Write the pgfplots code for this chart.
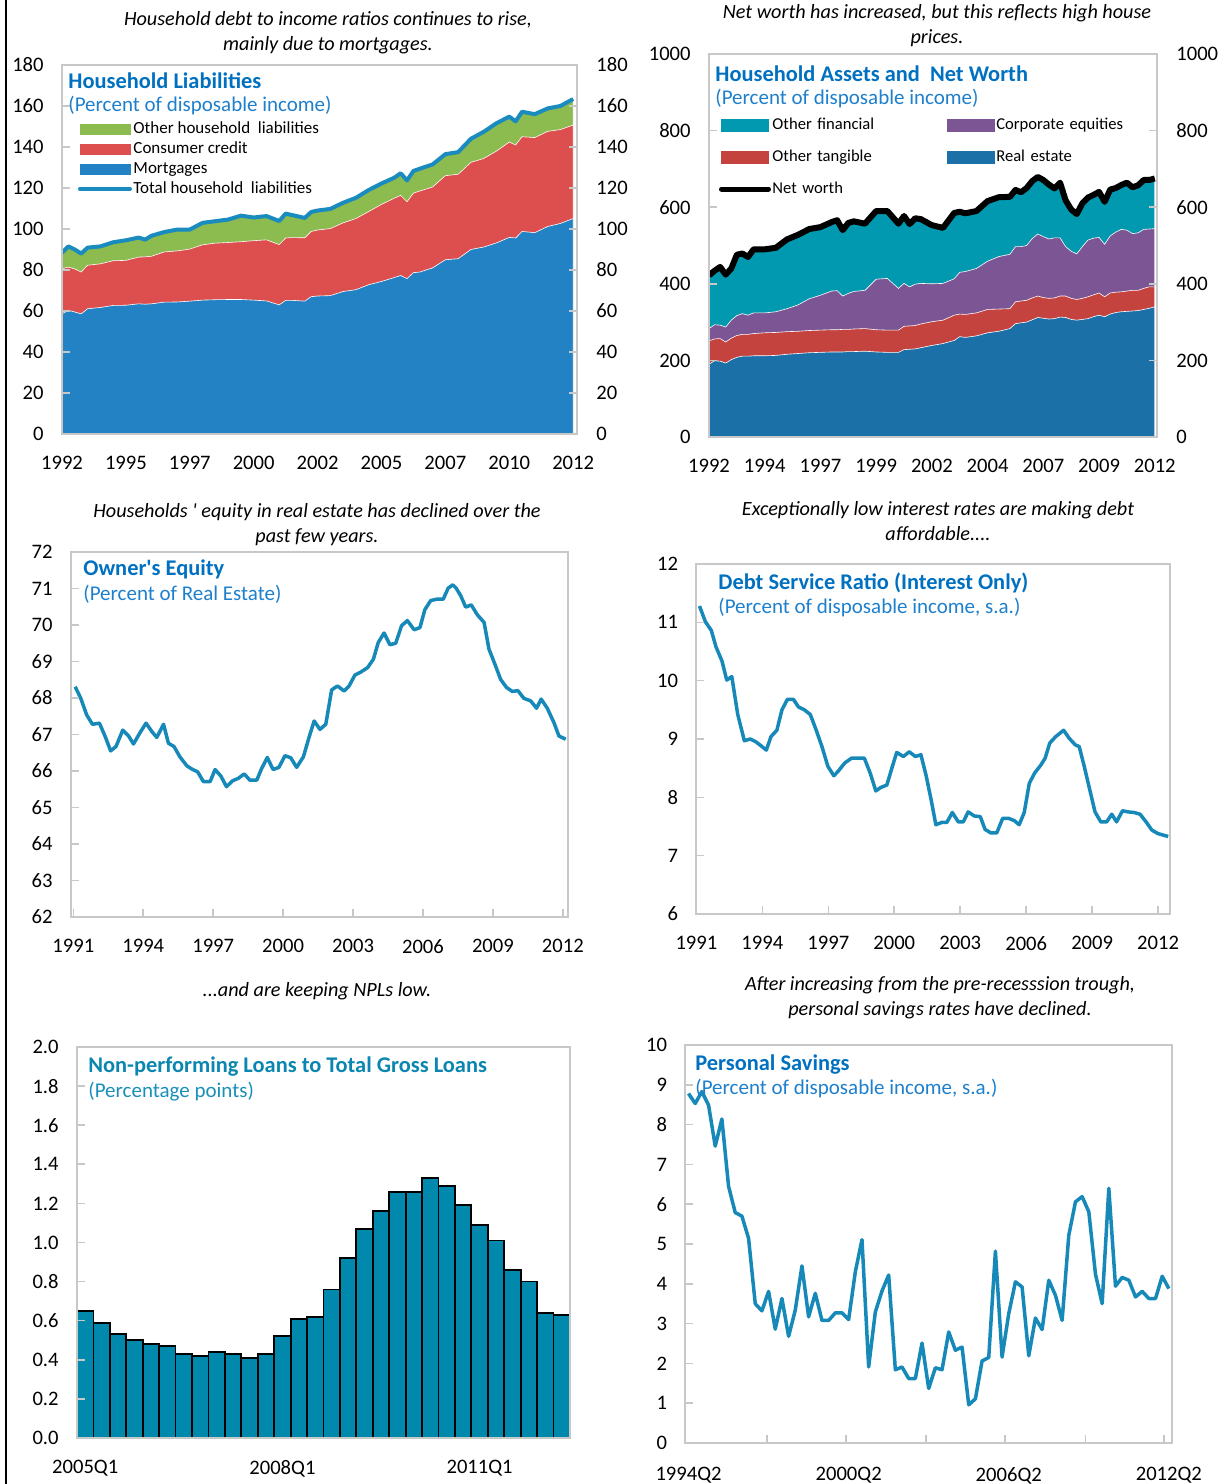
\documentclass[border=0pt]{standalone}
\usepackage{fontspec}
\setmainfont{Carlito}[Ligatures=TeXOff]
\usepackage{pgfplots}
\pgfplotsset{compat=1.18}
\usepackage{pgfplotstable}

\definecolor{boxgray}{HTML}{C8C8C8}
\definecolor{ttlblue}{HTML}{0070C0}
\definecolor{subblue}{HTML}{1E7FCC}
\definecolor{lineblue}{HTML}{1689B9}
\definecolor{hlgreen}{HTML}{8CBB4F}
\definecolor{hlred}{HTML}{DD4F4F}
\definecolor{hlblue}{HTML}{2382C4}
\definecolor{totline}{HTML}{1A8BBE}
\definecolor{ofteal}{HTML}{0099B0}
\definecolor{cepurple}{HTML}{7B5594}
\definecolor{otred}{HTML}{C4433F}
\definecolor{reblue}{HTML}{1C70A8}
\definecolor{barteal}{HTML}{0088AD}
\definecolor{npltitle}{HTML}{0A86B0}
\definecolor{nplsub}{HTML}{1A90B8}

\pgfplotsset{
  panel/.style={
    scale only axis, anchor=south west, axis on top,
    axis line style={draw=boxgray, line width=1pt},
    tick style={draw=boxgray, line width=0.8pt},
    major tick length=4pt, minor tick length=4pt, tick align=inside,
    ticklabel style={font=\fontsize{10.3}{12}\selectfont, text=black},
    /pgf/number format/assume math mode=true,
    /pgf/number format/1000 sep={},
    yticklabel style={inner sep=0pt, xshift=-9pt},
    xticklabel style={inner sep=0pt, yshift=-11pt},
  },
  rightlab/.style={
    scale only axis, anchor=south west,
    axis x line=none, axis y line*=right,
    y axis line style={draw=none}, ytick style={draw=none},
    xmin=0, xmax=1,
    yticklabel style={font=\fontsize{10.3}{12}\selectfont, text=black, inner sep=0pt, xshift=9.5pt},
    /pgf/number format/assume math mode=true,
    /pgf/number format/1000 sep={},
  },
}

\pgfplotstableread{
i M C T
0 58.6 80.6 88.4
1 60.3 81.4 91.5
2 59.5 80.5 90.0
3 58.6 79.0 88.0
4 61.1 82.3 90.9
6 61.7 83.0 91.5
8 62.7 84.5 93.5
10 62.8 84.7 94.5
12 63.5 86.3 95.8
13 63.3 86.4 94.8
14 63.5 86.7 96.7
16 64.3 88.8 98.5
18 64.4 89.3 99.7
20 64.8 90.2 99.7
22 65.3 92.3 103.0
24 65.5 93.1 103.8
26 65.6 93.4 104.6
28 65.6 93.8 106.5
30 65.3 94.3 105.6
32 64.9 94.7 106.3
34 63.0 92.4 103.9
35 65.2 95.6 107.5
36 65.2 95.8 106.8
38 64.8 95.7 105.4
39 67.0 98.8 108.3
40 67.3 99.5 109.0
42 67.5 100.2 109.8
44 69.5 103.0 112.8
46 70.4 105.1 115.2
48 72.8 108.5 119.0
50 74.4 112.0 122.2
52 76.3 115.0 125.0
53 77.3 116.4 127.2
54 75.8 113.3 123.7
55 78.7 117.5 128.3
56 79.0 118.5 129.4
58 81.0 120.5 131.5
60 85.0 126.0 136.5
62 85.5 126.7 137.5
64 90.0 132.5 144.0
66 91.2 134.4 147.4
68 93.2 138.0 151.6
70 95.9 142.4 154.8
71 95.6 141.0 152.5
72 98.8 145.0 157.2
74 98.2 144.6 156.0
76 101.2 147.6 158.8
78 102.7 148.5 160.0
80 105.1 150.7 163.4
}\tabA

\pgfplotstableread{
i RE OT PE NW
0 190 251 283 422
1 199 256 293 434
2 198 257 292 444
3 193 248 287 424
4 202 258 305 440
5 208 265 317 476
6 211 268 322 479
7 211 268 318 470
8 212 270 324 490
10 212 272 324 490
12 213 273 327 494
14 216 275 335 516
16 218 276 345 528
18 220 278 361 543
20 221 279 370 548
22 222 280 381 561
23 222 280 382 566
24 222 281 368 540
25 223 281 375 559
26 223 282 380 563
28 224 283 383 557
30 222 280 412 590
32 221 279 414 590
34 221 279 388 557
35 228 289 401 577
36 229 290 392 556
37 230 291 399 571
38 233 295 401 569
40 239 301 400 553
42 244 305 401 546
44 252 318 413 585
45 262 321 430 588
46 260 320 432 584
48 264 324 440 590
50 272 333 459 616
52 276 334 471 626
54 283 335 477 627
55 296 353 497 645
56 298 355 497 639
57 300 357 500 650
58 306 363 518 668
59 312 368 530 679
60 310 364 523 671
61 308 362 517 659
62 309 363 520 649
63 313 368 520 664
64 312 368 497 618
65 307 362 485 594
66 305 359 478 582
67 307 362 497 610
68 309 366 514 625
69 314 371 519 632
70 318 376 521 640
71 314 366 503 614
72 321 376 525 646
73 325 378 535 650
74 327 379 542 658
75 328 381 540 664
76 329 383 531 652
77 330 383 533 657
78 333 388 542 671
79 336 392 543 671
80 340 392 544 675
}\tabB

\begin{document}
\begin{tikzpicture}
\useasboundingbox (0,0) rectangle (613pt,742pt);
\draw[black, line width=0.8pt] (3pt,0pt) -- (3pt,742pt);

% ---------------- Panel 1 ----------------
\begin{axis}[panel, at={(31pt,525pt)}, width=257.5pt, height=184.5pt,
  xmin=0, xmax=80.6, ymin=0, ymax=180, ytick={0,20,...,180},
  xtick={0,10,...,80}, xticklabels={1992,1995,1997,2000,2002,2005,2007,2010,2012},
  xtick style={draw=none}, ytick pos=both,
  legend cell align=left,
  legend style={draw=none, fill=none, inner sep=0pt, outer sep=0pt,
    at={(axis description cs:0.031,0.851)}, anchor=north west,
    font=\fontsize{8.5}{10}\selectfont, row sep=1pt,
    nodes={inner sep=0.75pt, text height=6pt, text depth=1.5pt}}]
\addplot[fill=hlgreen, draw=white, line width=0.3pt, forget plot] table[x=i,y=T]{\tabA} \closedcycle;
\addplot[fill=hlred, draw=white, line width=0.3pt, forget plot] table[x=i,y=C]{\tabA} \closedcycle;
\addplot[fill=hlblue, draw=white, line width=0.3pt, forget plot] table[x=i,y=M]{\tabA} \closedcycle;
\addplot[totline, line width=2pt, line join=round, forget plot] table[x=i,y=T]{\tabA};
\addlegendimage{legend image code/.code={\fill[hlgreen] (0pt,-2.5pt) rectangle (25pt,2.5pt);}}
\addlegendentry{Other household\ \ liabilities}
\addlegendimage{legend image code/.code={\fill[hlred] (0pt,-2.5pt) rectangle (25pt,2.5pt);}}
\addlegendentry{Consumer credit}
\addlegendimage{legend image code/.code={\fill[hlblue] (0pt,-2.5pt) rectangle (25pt,2.5pt);}}
\addlegendentry{Mortgages}
\addlegendimage{legend image code/.code={\draw[totline, line width=2pt, line cap=round] (0pt,0pt) -- (25pt,0pt);}}
\addlegendentry{Total household\ \ liabilities}
\end{axis}
\begin{axis}[rightlab, at={(31pt,525pt)}, width=257.5pt, height=184.5pt,
  ymin=0, ymax=180, ytick={0,20,...,180}]
\addplot[draw=none] coordinates {(0,0)};
\end{axis}

% ---------------- Panel 2 ----------------
\begin{axis}[panel, at={(354.5pt,523.5pt)}, width=224pt, height=191.5pt,
  xmin=0, xmax=80.4, ymin=0, ymax=1000, ytick={0,200,...,1000},
  xtick={0,10,...,80}, xticklabels={1992,1994,1997,1999,2002,2004,2007,2009,2012},
  xtick style={draw=none}, ytick pos=both,
  legend columns=2, legend cell align=left,
  legend style={draw=none, fill=none, inner sep=0pt, outer sep=0pt,
    at={(axis description cs:0.0223,0.838)}, anchor=north west,
    font=\fontsize{8.3}{9.6}\selectfont, row sep=7pt,
    nodes={inner sep=0.75pt, text height=6pt, text depth=1.5pt, text width=86.5pt}}]
\addplot[fill=ofteal, draw=white, line width=0.3pt, forget plot] table[x=i,y=NW]{\tabB} \closedcycle;
\addplot[fill=cepurple, draw=white, line width=0.3pt, forget plot] table[x=i,y=PE]{\tabB} \closedcycle;
\addplot[fill=otred, draw=white, line width=0.3pt, forget plot] table[x=i,y=OT]{\tabB} \closedcycle;
\addplot[fill=reblue, draw=white, line width=0.3pt, forget plot] table[x=i,y=RE]{\tabB} \closedcycle;
\addplot[black, line width=3pt, line join=round, forget plot] table[x=i,y=NW]{\tabB};
\addlegendimage{legend image code/.code={\fill[ofteal] (0pt,-3pt) rectangle (23.5pt,3pt);}}
\addlegendentry{Other financial}
\addlegendimage{legend image code/.code={\fill[cepurple] (0pt,-3pt) rectangle (23.5pt,3pt);}}
\addlegendentry{Corporate equities}
\addlegendimage{legend image code/.code={\fill[otred] (0pt,-3pt) rectangle (23.5pt,3pt);}}
\addlegendentry{Other tangible}
\addlegendimage{legend image code/.code={\fill[reblue] (0pt,-3pt) rectangle (23.5pt,3pt);}}
\addlegendentry{Real estate}
\addlegendimage{legend image code/.code={\draw[black, line width=2.5pt, line cap=round] (0pt,0pt) -- (23.5pt,0pt);}}
\addlegendentry{Net worth}
\end{axis}
\begin{axis}[rightlab, at={(354.5pt,523.5pt)}, width=224pt, height=191.5pt,
  ymin=0, ymax=1000, ytick={0,200,...,1000}]
\addplot[draw=none] coordinates {(0,0)};
\end{axis}

% ---------------- Panel 3 ----------------
\begin{axis}[panel, at={(35.5pt,283.5pt)}, width=248.5pt, height=182.5pt,
  xmin=1990.9, xmax=2012.22, ymin=62, ymax=72, ytick={62,63,...,72},
  xtick={1991,1994,...,2012}, tick pos=left]
\addplot[lineblue, line width=1.75pt, line join=round] coordinates {
(1991.08,68.31) (1991.32,67.99) (1991.57,67.54) (1991.82,67.28) (1992.12,67.31)
(1992.37,66.94) (1992.60,66.55) (1992.83,66.67) (1993.12,67.12) (1993.37,66.96)
(1993.58,66.74) (1993.87,67.06) (1994.12,67.31) (1994.37,67.08) (1994.58,66.92)
(1994.87,67.28) (1995.08,66.76) (1995.32,66.67) (1995.57,66.39) (1995.87,66.14)
(1996.12,66.04) (1996.33,65.98) (1996.58,65.71) (1996.87,65.71) (1997.08,66.04)
(1997.33,65.86) (1997.57,65.57) (1997.83,65.73) (1998.08,65.80) (1998.33,65.92)
(1998.57,65.75) (1998.87,65.75) (1999.08,66.07) (1999.32,66.37) (1999.57,66.04)
(1999.82,66.10) (2000.08,66.42) (2000.33,66.36) (2000.58,66.10) (2000.87,66.39)
(2001.12,66.94) (2001.33,67.37) (2001.58,67.14) (2001.83,67.28) (2002.08,68.22)
(2002.33,68.33) (2002.62,68.19) (2002.83,68.33) (2003.08,68.63) (2003.33,68.71)
(2003.62,68.83) (2003.87,69.06) (2004.08,69.52) (2004.33,69.78) (2004.58,69.46)
(2004.83,69.50) (2005.08,69.98) (2005.33,70.12) (2005.62,69.87) (2005.87,69.93)
(2006.08,70.42) (2006.33,70.67) (2006.62,70.71) (2006.87,70.71) (2007.08,71.01)
(2007.28,71.10) (2007.42,71.01) (2007.62,70.80) (2007.83,70.49) (2008.07,70.55)
(2008.33,70.28) (2008.62,70.07) (2008.83,69.34) (2009.07,68.95) (2009.33,68.51)
(2009.58,68.29) (2009.83,68.18) (2010.07,68.20) (2010.33,67.99) (2010.62,67.92)
(2010.87,67.72) (2011.07,67.97) (2011.33,67.72) (2011.62,67.32) (2011.83,66.96)
(2012.12,66.87)};
\end{axis}

% ---------------- Panel 4 ----------------
\begin{axis}[panel, at={(348.2pt,285pt)}, width=236.8pt, height=175pt,
  xmin=1991, xmax=2012.54, ymin=6, ymax=12, ytick={6,7,...,12},
  xtick={1991,1994,...,2012}, tick pos=left]
\addplot[lineblue, line width=1.75pt, line join=round] coordinates {
(1991.14,11.28) (1991.41,11.01) (1991.68,10.86) (1991.89,10.58) (1992.16,10.34)
(1992.38,10.01) (1992.61,10.07) (1992.88,9.42) (1993.18,8.97) (1993.45,9.00)
(1993.71,8.95) (1993.95,8.88) (1994.18,8.81) (1994.39,9.04) (1994.66,9.15)
(1994.89,9.50) (1995.14,9.68) (1995.41,9.68) (1995.64,9.55) (1995.91,9.50)
(1996.18,9.42) (1996.45,9.15) (1996.71,8.87) (1996.98,8.53) (1997.25,8.37)
(1997.43,8.44) (1997.75,8.59) (1998.05,8.67) (1998.36,8.67) (1998.64,8.67)
(1998.91,8.41) (1999.16,8.11) (1999.39,8.17) (1999.66,8.21) (1999.89,8.50)
(2000.11,8.77) (2000.41,8.70) (2000.68,8.78) (2000.96,8.70) (2001.21,8.73)
(2001.45,8.37) (2001.68,7.95) (2001.89,7.53) (2002.16,7.57) (2002.39,7.57)
(2002.64,7.74) (2002.91,7.58) (2003.14,7.58) (2003.36,7.75) (2003.64,7.68)
(2003.91,7.67) (2004.13,7.45) (2004.39,7.39) (2004.66,7.39) (2004.93,7.64)
(2005.20,7.64) (2005.46,7.60) (2005.68,7.53) (2005.91,7.74) (2006.14,8.24)
(2006.39,8.42) (2006.66,8.55) (2006.86,8.67) (2007.07,8.93) (2007.34,9.04)
(2007.70,9.15) (2007.96,9.01) (2008.23,8.90) (2008.41,8.87) (2008.64,8.53)
(2008.89,8.13) (2009.13,7.75) (2009.39,7.58) (2009.66,7.58) (2009.89,7.71)
(2010.11,7.58) (2010.38,7.77) (2010.64,7.75) (2010.91,7.74) (2011.18,7.71)
(2011.45,7.58) (2011.71,7.44) (2011.98,7.38) (2012.25,7.35) (2012.46,7.33)};
\end{axis}

% ---------------- Panel 5 ----------------
\begin{axis}[panel, at={(38.5pt,23pt)}, width=246.5pt, height=195.5pt,
  xmin=-0.5, xmax=29.5, ymin=0, ymax=2, ytick={0,0.2,...,2.01},
  yticklabel style={/pgf/number format/.cd, fixed, fixed zerofill, precision=1},
  xtick={0,12,24}, xticklabels={2005Q1,2008Q1,2011Q1}, xtick style={draw=none},
  xticklabel style={yshift=4pt},
  ytick pos=left, ybar, bar width=1]
\addplot[fill=barteal, draw=black, line width=0.9pt, bar shift=0pt] coordinates {
(0,0.65) (1,0.59) (2,0.53) (3,0.50) (4,0.48) (5,0.47) (6,0.43) (7,0.42) (8,0.44) (9,0.43)
(10,0.41) (11,0.43) (12,0.52) (13,0.61) (14,0.62) (15,0.76) (16,0.92) (17,1.07) (18,1.16) (19,1.26)
(20,1.26) (21,1.33) (22,1.29) (23,1.19) (24,1.09) (25,1.01) (26,0.86) (27,0.80) (28,0.64) (29,0.63)};
\end{axis}

% ---------------- Panel 6 ----------------
\begin{axis}[panel, at={(342.7pt,20.5pt)}, width=243.3pt, height=199pt,
  xmin=-0.47, xmax=72.47, ymin=0, ymax=10, ytick={0,1,...,10},
  xtick={0,24,48,72}, xticklabels={1994Q2,2000Q2,2006Q2,2012Q2},
  xtick style={draw=none}, minor xtick={11.8,23.6,35.6,47.4,59.5,71.3},
  minor x tick style={draw=boxgray, line width=0.8pt}, xticklabel style={yshift=-1pt},
  tick pos=left]
\addplot[lineblue, line width=1.75pt, line join=round] coordinates {
(0,8.78) (1,8.53) (2,8.83) (3,8.49) (4,7.46) (5,8.14) (6,6.45) (7,5.79) (8,5.70) (9,5.14)
(10,3.50) (11,3.32) (12,3.81) (13,2.86) (14,3.63) (15,2.68) (16,3.34) (17,4.45) (18,3.17) (19,3.76)
(20,3.08) (21,3.08) (22,3.27) (23,3.27) (24,3.10) (25,4.30) (26,5.11) (27,1.91) (28,3.29) (29,3.82)
(30,4.22) (31,1.84) (32,1.91) (33,1.62) (34,1.62) (35,2.51) (36,1.37) (37,1.89) (38,1.84) (39,2.79)
(40,2.33) (41,2.41) (42,0.96) (43,1.11) (44,2.06) (45,2.15) (46,4.82) (47,2.16) (48,3.25) (49,4.05)
(50,3.92) (51,2.19) (52,3.14) (53,2.85) (54,4.09) (55,3.71) (56,3.08) (57,5.22) (58,6.06) (59,6.19)
(60,5.81) (61,4.24) (62,3.50) (63,6.40) (64,3.94) (65,4.16) (66,4.09) (67,3.67) (68,3.81) (69,3.63)
(70,3.63) (71,4.19) (72,3.88)};
\end{axis}

% ---------------- Headlines ----------------
\tikzset{headline/.style={align=center, inner sep=0pt, font=\fontsize{10.1}{12.5}\selectfont\itshape}}
\node[headline] at (164pt,725.75pt) {Household debt to income ratios continues to rise,\\mainly due to mortgages.};
\node[headline] at (468.5pt,729.25pt) {Net worth has increased, but this reflects high house\\prices.};
\node[headline] at (158.5pt,479.75pt) {Households ' equity in real estate has declined over the\\past few years.};
\node[headline] at (469pt,481.25pt) {Exceptionally low interest rates are making debt\\affordable....};
\node[headline] at (158.5pt,246.5pt) {...and are keeping NPLs low.};
\node[headline] at (470pt,243pt) {After increasing from the pre-recesssion trough,\\personal savings rates have declined.};

% ---------------- Panel titles ----------------
\tikzset{ptitle/.style={anchor=west, inner sep=0pt, font=\fontsize{11.2}{13}\selectfont\bfseries},
         psub/.style={anchor=west, inner sep=0pt, font=\fontsize{10.5}{12}\selectfont}}
\node[ptitle, text=ttlblue] at (34pt,701.5pt) {Household Liabilities};
\node[psub, text=subblue] at (34pt,689pt) {(Percent of disposable income)};
\node[ptitle, text=ttlblue] at (357.5pt,705pt) {Household Assets and\ \ Net Worth};
\node[psub, text=subblue] at (357.5pt,692.5pt) {(Percent of disposable income)};
\node[ptitle, text=ttlblue] at (41.5pt,457.5pt) {Owner's Equity};
\node[psub, text=subblue] at (41.5pt,445pt) {(Percent of Real Estate)};
\node[ptitle, text=ttlblue] at (359pt,450.5pt) {Debt Service Ratio (Interest Only)};
\node[psub, text=subblue] at (359pt,438pt) {(Percent of disposable income, s.a.)};
\node[ptitle, text=npltitle] at (44pt,208.5pt) {Non-performing Loans to Total Gross Loans};
\node[psub, text=nplsub] at (44pt,196pt) {(Percentage points)};
\node[ptitle, text=ttlblue] at (347.5pt,209.5pt) {Personal Savings};
\node[psub, text=subblue] at (347.5pt,197.5pt) {(Percent of disposable income, s.a.)};
\end{tikzpicture}
\end{document}
